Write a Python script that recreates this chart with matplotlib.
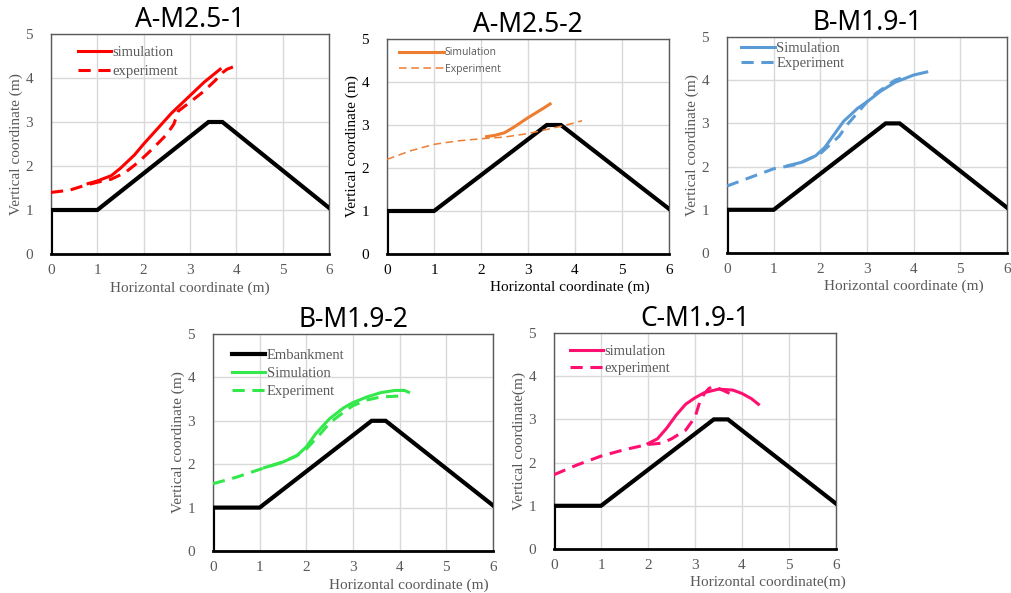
import matplotlib
matplotlib.use("Agg")
import matplotlib.pyplot as plt

# embankment outline (m)
emb_x = [0, 0, 1, 3.4, 3.7, 6]
emb_y = [0, 1, 1, 3, 3, 1.05]

# A-M2.5-1
a1_sim_x = [0.8, 1.0, 1.3, 1.5, 1.8, 2.0, 2.3, 2.6, 3.0, 3.3, 3.65]
a1_sim_y = [1.6, 1.66, 1.78, 1.95, 2.25, 2.5, 2.85, 3.2, 3.6, 3.9, 4.2]
a1_exp_x = [0.0, 0.4, 0.7, 1.0, 1.3, 1.6, 1.9, 2.2, 2.5, 2.65, 2.75, 3.0, 3.3, 3.55, 3.7, 3.8, 4.0]
a1_exp_y = [1.4, 1.45, 1.55, 1.63, 1.7, 1.85, 2.1, 2.4, 2.72, 2.95, 3.25, 3.45, 3.7, 3.95, 4.12, 4.2, 4.28]

# A-M2.5-2
a2_sim_x = [2.12, 2.3, 2.5, 2.7, 3.0, 3.3, 3.47]
a2_sim_y = [2.73, 2.76, 2.82, 2.95, 3.17, 3.37, 3.49]
a2_exp_x = [0.0, 0.5, 1.0, 1.5, 2.0, 2.5, 3.0, 3.5, 4.0, 4.15]
a2_exp_y = [2.2, 2.4, 2.55, 2.63, 2.68, 2.72, 2.8, 2.92, 3.05, 3.1]

# B-M1.9-1
b1_sim_x = [1.3, 1.6, 1.9, 2.1, 2.3, 2.5, 2.8, 3.0, 3.3, 3.6, 4.0, 4.28]
b1_sim_y = [2.02, 2.1, 2.25, 2.45, 2.75, 3.05, 3.35, 3.5, 3.75, 3.95, 4.12, 4.19]
b1_exp_x = [0.0, 0.5, 1.0, 1.5, 1.8, 2.0, 2.2, 2.4, 2.6, 2.8, 3.0, 3.2, 3.4, 3.6, 3.85]
b1_exp_y = [1.55, 1.75, 1.95, 2.05, 2.2, 2.3, 2.5, 2.7, 3.0, 3.25, 3.5, 3.7, 3.85, 4.0, 4.09]

# B-M1.9-2
b2_sim_x = [1.1, 1.5, 1.8, 2.0, 2.2, 2.5, 2.8, 3.0, 3.3, 3.6, 3.9, 4.1, 4.19]
b2_sim_y = [1.92, 2.05, 2.2, 2.4, 2.7, 3.05, 3.3, 3.42, 3.55, 3.65, 3.7, 3.7, 3.66]
b2_exp_x = [0.0, 0.5, 1.0, 1.5, 1.8, 2.0, 2.3, 2.5, 2.8, 3.0, 3.3, 3.6, 3.98]
b2_exp_y = [1.55, 1.7, 1.88, 2.05, 2.2, 2.35, 2.7, 2.95, 3.2, 3.35, 3.48, 3.55, 3.57]

# C-M1.9-1
c1_sim_x = [2.0, 2.2, 2.4, 2.6, 2.8, 3.0, 3.2, 3.5, 3.8, 4.0, 4.2, 4.35]
c1_sim_y = [2.44, 2.55, 2.8, 3.1, 3.35, 3.5, 3.62, 3.7, 3.68, 3.6, 3.48, 3.35]
c1_exp_x = [0.0, 0.5, 1.0, 1.5, 2.0, 2.3, 2.5, 2.8, 3.0, 3.1, 3.2, 3.3, 3.4, 3.5, 3.7, 3.88]
c1_exp_y = [1.72, 1.95, 2.15, 2.3, 2.42, 2.45, 2.55, 2.75, 3.05, 3.4, 3.6, 3.72, 3.76, 3.72, 3.62, 3.53]

W, H = 1011, 593
fig = plt.figure(figsize=(W / 100, H / 100), dpi=100)

SERIF = "Liberation Serif"
GRAY = "#595959"


def make_panel(box, title, sim, exp, color, labels, ylabel, xlabel, xlabel_pos,
               label_color=GRAY, legend_font=SERIF, legend_size=10.5, thin_exp=False,
               show_emb=False, legend_xy=(0.065, 0.985), spacing=0.4, hlen=2.3):
    l, t, r, b = box
    ax = fig.add_axes([l / W, 1 - b / H, (r - l) / W, (b - t) / H])
    emb, = ax.plot(emb_x, emb_y, color="black", lw=3, solid_joinstyle="miter", zorder=3)
    s, = ax.plot(sim[0], sim[1], color=color, lw=2.2, zorder=4)
    if thin_exp:
        e, = ax.plot(exp[0], exp[1], color=color, lw=1.1, ls=(0, (5, 3)), zorder=4)
    else:
        e, = ax.plot(exp[0], exp[1], color=color, lw=2.2, ls=(0, (4, 2.5)), zorder=4)
    ax.set_xlim(0, 6)
    ax.set_ylim(0, 5)
    ax.set_xticks(range(7))
    ax.set_yticks(range(6))
    ax.grid(color="#d9d9d9", lw=1)
    ax.set_axisbelow(True)
    for sp in ax.spines.values():
        sp.set_color(GRAY)
        sp.set_linewidth(1)
    ax.spines["bottom"].set_color("black")
    ax.spines["bottom"].set_linewidth(2)
    ax.tick_params(length=0, labelsize=11, labelcolor=label_color)
    ax.tick_params(axis="y", pad=13)
    ax.tick_params(axis="x", pad=7)
    for lab in ax.get_xticklabels() + ax.get_yticklabels():
        lab.set_fontfamily(SERIF)
    ax.set_title(title, fontsize=19, family="Noto Sans", fontweight="light", pad=3)
    ax.set_ylabel(ylabel, family=SERIF, fontsize=11, color=label_color, labelpad=2)
    ax.set_xlabel(xlabel, family=SERIF, fontsize=11, color=label_color)
    ax.xaxis.set_label_coords(*xlabel_pos)
    handles = [s, e]
    if show_emb:
        handles = [emb, s, e]
    leg = ax.legend(handles, labels, loc="upper left", frameon=False,
                    handlelength=hlen, handletextpad=0.1, labelspacing=spacing,
                    borderaxespad=0.2, bbox_to_anchor=legend_xy,
                    prop={"family": legend_font, "size": legend_size})
    for txt in leg.get_texts():
        txt.set_color(GRAY)
    return ax


make_panel((51, 34, 329, 254), "A-M2.5-1", (a1_sim_x, a1_sim_y), (a1_exp_x, a1_exp_y),
           "#ff0000", ["simulation", "experiment"],
           "Vertical coordinate (m)", "Horizontal coordinate (m)", (0.5, -0.125))
make_panel((387, 39, 669, 254), "A-M2.5-2", (a2_sim_x, a2_sim_y), (a2_exp_x, a2_exp_y),
           "#ed7d31", ["Simulation", "Experiment"],
           "Vertical coordinate (m)", "Horizontal coordinate (m)", (0.65, -0.125),
           label_color="black", legend_font="Open Sans", legend_size=7.5, thin_exp=True,
           legend_xy=(0.02, 0.99), spacing=0.55, hlen=4.3)
make_panel((727, 37, 1007, 253), "B-M1.9-1", (b1_sim_x, b1_sim_y), (b1_exp_x, b1_exp_y),
           "#5b9bd5", ["Simulation", "Experiment"],
           "Vertical coordinate (m)", "Horizontal coordinate (m)", (0.63, -0.125),
           legend_xy=(0.02, 1.02), spacing=0.15)
make_panel((213, 334, 493, 551), "B-M1.9-2", (b2_sim_x, b2_sim_y), (b2_exp_x, b2_exp_y),
           "#33e84a", ["Embankment", "Simulation", "Experiment"],
           "Vertical coordinate (m)", "Horizontal coordinate (m)", (0.7, -0.125),
           show_emb=True, legend_xy=(0.035, 0.97), spacing=0.3)
make_panel((554, 333, 836, 549), "C-M1.9-1", (c1_sim_x, c1_sim_y), (c1_exp_x, c1_exp_y),
           "#ff1070", ["simulation", "experiment"],
           "Vertical coordinate(m)", "Horizontal coordinate(m)", (0.76, -0.125),
           legend_xy=(0.025, 0.985), spacing=0.25)

fig.savefig("out.png", dpi=100)
